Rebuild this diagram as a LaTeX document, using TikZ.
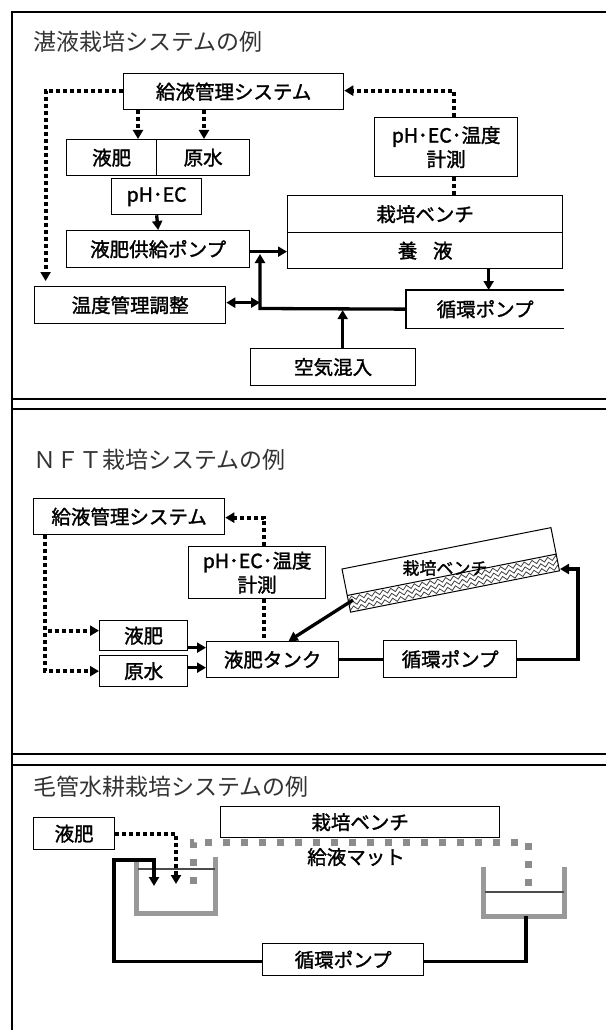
\documentclass[tikz,border=0pt]{standalone}
\usepackage{fontspec}
\newfontfamily\jp{Noto Sans CJK JP}[FakeBold=1.5]
\newfontfamily\jpt{Noto Sans CJK JP}
\usetikzlibrary{arrows.meta,decorations.pathmorphing,calc}
\newcommand\bxfont{\jp\fontsize{19.5}{24}\selectfont}
\newcommand\smfont{\jp\fontsize{17}{20}\selectfont}
\newcommand\ttlfont{\jpt\fontsize{23}{26}\selectfont}
\tikzset{
  box/.style={draw, line width=1.3pt, inner sep=0pt, anchor=north west, font=\bxfont, align=center},
  dotl/.style={line width=4pt, dash pattern=on 4pt off 3pt},
  thk/.style={line width=3.3pt},
  tip/.style={-{Triangle[length=9pt,width=10pt]}},
  frame/.style={line width=1.2pt},
  ttl/.style={anchor=west, inner sep=0pt, font=\ttlfont, text=black!80},
  matl/.style={line width=7pt, draw=black!45, dash pattern=on 7pt off 11pt},
  tankl/.style={line width=5pt, draw=black!40},
  waterl/.style={line width=1.2pt, draw=black!70},
  zz/.style={draw=black!75, line width=0.8pt, decorate, decoration={zigzag, segment length=8pt, amplitude=2pt}}
}
\begin{document}
\begin{tikzpicture}[x=1pt,y=-1pt]
\useasboundingbox (0,0) rectangle (606,1030);
% frame
\draw[frame] (12,1030) -- (12,12) -- (606,12);
\draw[frame] (12,399) -- (606,399);
\draw[frame] (12,409) -- (606,409);
\draw[frame] (12,754) -- (606,754);
\draw[frame] (12,765) -- (606,765);

% ---------------- section 1
\node[ttl] (t1) at (33,42) {湛液栽培システムの例};
\node[box, minimum width=220pt, minimum height=36pt] (kyu1) at (123,73) {給液管理システム};
\node[box, minimum width=90pt, minimum height=36pt] (ekihi1) at (66,139) {液肥};
\node[box, minimum width=93pt, minimum height=36pt] (gensui1) at (156,139) {原水};
\node[box, minimum width=90pt, minimum height=36pt] (phec1) at (111,178) {pH･EC};
\node[box, minimum width=183pt, minimum height=37pt] (pump1) at (66,230) {液肥供給ポンプ};
\node[box, minimum width=275pt, minimum height=37pt] (bench1) at (287,195) {栽培ベンチ};
\node[box, minimum width=275pt, minimum height=36pt] (yoeki1) at (287,232) {養\hspace{0.8em}液};
\node[box, minimum width=143pt, minimum height=59pt] (meas1) at (374,117) {pH･EC･温度\\計測};
\node[box, minimum width=191pt, minimum height=37pt] (ondo1) at (34,286) {温度管理調整};
\node[box, draw=none, minimum width=157pt, minimum height=37pt] (junkan1) at (406,290) {循環ポンプ};
\draw[line width=1.3pt] (junkan1.north east) -- (junkan1.north west) -- (junkan1.south west) -- (junkan1.south east);
\node[box, minimum width=165pt, minimum height=37pt] (air1) at (250,348) {空気混入};

\draw[dotl,tip] ([yshift=1pt]kyu1.west) -| ($(ondo1.north west)+(11.6,-5)$);
\draw[dotl,tip] ([xshift=15pt]kyu1.south west) -- ([xshift=15pt]kyu1.south west |- ekihi1.north);
\draw[dotl,tip] ([xshift=81pt]kyu1.south west) -- ([xshift=81pt]kyu1.south west |- gensui1.north);
\draw[thk,tip] (phec1.south) -- (pump1.north);
\draw[dotl,tip] ([xshift=7.5pt]meas1.north) |- ([yshift=1pt]kyu1.east);
\draw[dotl] ([xshift=7.5pt]meas1.south) -- ([xshift=7.5pt]meas1.south |- bench1.north);
\draw[thk,tip] ([yshift=-2.5pt]pump1.east) -- ([yshift=-2.5pt]pump1.east -| yoeki1.west);
\draw[thk,tip] ([xshift=3.5pt]junkan1.north |- yoeki1.south) -- ([xshift=3.5pt]junkan1.north);
\coordinate (J1) at (260,308.5);
\coordinate (J2) at (260,254);
\draw[thk,tip] (junkan1.west) -- (J1) -- (J2);
\draw[thk,{Triangle[length=9pt,width=10pt]}-{Triangle[length=9pt,width=10pt]}] ([yshift=2.5pt]ondo1.east) -- ([yshift=2.5pt]ondo1.east -| J1);
\draw[thk,tip,shorten >=1.6pt] ([xshift=9.5pt]air1.north) -- ([xshift=9.5pt]air1.north |- J1);

% ---------------- section 2
\node[ttl] (t2) at (33,460) {ＮＦＴ栽培システムの例};
\node[box, minimum width=191pt, minimum height=36pt] (kyu2) at (33,498) {給液管理システム};
\node[box, minimum width=137pt, minimum height=52pt] (meas2) at (188,546) {pH･EC･温度\\計測};
\node[box, minimum width=88pt, minimum height=30pt] (ekihi2) at (99,620) {液肥};
\node[box, minimum width=88pt, minimum height=31pt] (gensui2) at (99,655) {原水};
\node[box, minimum width=132pt, minimum height=36pt] (tank2) at (206,641) {液肥タンク};
\node[box, minimum width=133pt, minimum height=37pt] (junkan2) at (383,640) {循環ポンプ};

\begin{scope}[shift={(342,569)}, rotate=11.2]
  \begin{scope}
    \clip (0,27) rectangle (213,44);
    \foreach \r in {30.5,35.5,40.5} \draw[zz] (-6,\r) -- (222,\r);
  \end{scope}
  \draw[line width=1pt] (0,0) rectangle (213,44);
  \draw[line width=1pt] (0,27) -- (213,27);
\end{scope}
\node[font=\smfont, inner sep=0pt] (bench2) at (445,568) {栽培ベンチ};

\draw[dotl,tip] ([xshift=7pt]meas2.north) |- ([yshift=-1pt]kyu2.east);
\draw[dotl] ([xshift=7pt]meas2.south) -- ([xshift=7pt]meas2.south |- tank2.north);
\draw[dotl,tip] ([xshift=12pt]kyu2.south west) |- ([yshift=5pt]ekihi2.west);
\draw[dotl,tip] ([xshift=12pt]kyu2.south west) |- (gensui2.west);
\draw[thk,tip] ([yshift=-12pt]ekihi2.east) -- ([yshift=-12pt]ekihi2.east -| tank2.west);
\draw[thk,tip] ([yshift=3.5pt]gensui2.east) -- ([yshift=3.5pt]gensui2.east -| tank2.west);
\draw[thk] (tank2.east) -- (tank2.east -| junkan2.west);
\coordinate (R2) at (578,569);
\coordinate (B2r) at (560,569);
\draw[thk,tip] (junkan2.east) -| (R2) -- (B2r);
\coordinate (B2l) at (353,600);
\draw[thk,tip] (B2l) -- ([xshift=16pt]tank2.north);

% ---------------- section 3
\node[ttl] (t3) at (33,787) {毛管水耕栽培システムの例};
\node[box, minimum width=81pt, minimum height=32pt] (ekihi3) at (33,817) {液肥};
\node[box, minimum width=279pt, minimum height=31pt] (bench3) at (220,806) {栽培ベンチ};
\node[font=\bxfont, inner sep=0pt] (mat3) at (356,857) {給液マット};
\node[box, minimum width=161pt, minimum height=32pt] (junkan3) at (262,943) {循環ポンプ};

\draw[matl] (193,884) -- (193,842) -- (528,842) -- (528,894);
\draw[tankl] (136,862) -- (136,913) -- (215,913) -- (215,857);
\draw[waterl] (138,869) -- (215,869);
\draw[tankl] (483,867) -- (483,916) -- (564,916) -- (564,867);
\draw[waterl] (485,892) -- (564,892);

\coordinate (D3) at (176,884);
\draw[dotl,tip] (ekihi3.east) -| (D3);
\coordinate (C3a) at (114,860);
\coordinate (C3b) at (154,886);
\draw[thk,tip] ([yshift=-2pt]junkan3.west) -| (C3a) -| (C3b);
\coordinate (T3) at (526,916);
\draw[thk] ([yshift=-2pt]junkan3.east) -| (T3);
\end{tikzpicture}
\end{document}
